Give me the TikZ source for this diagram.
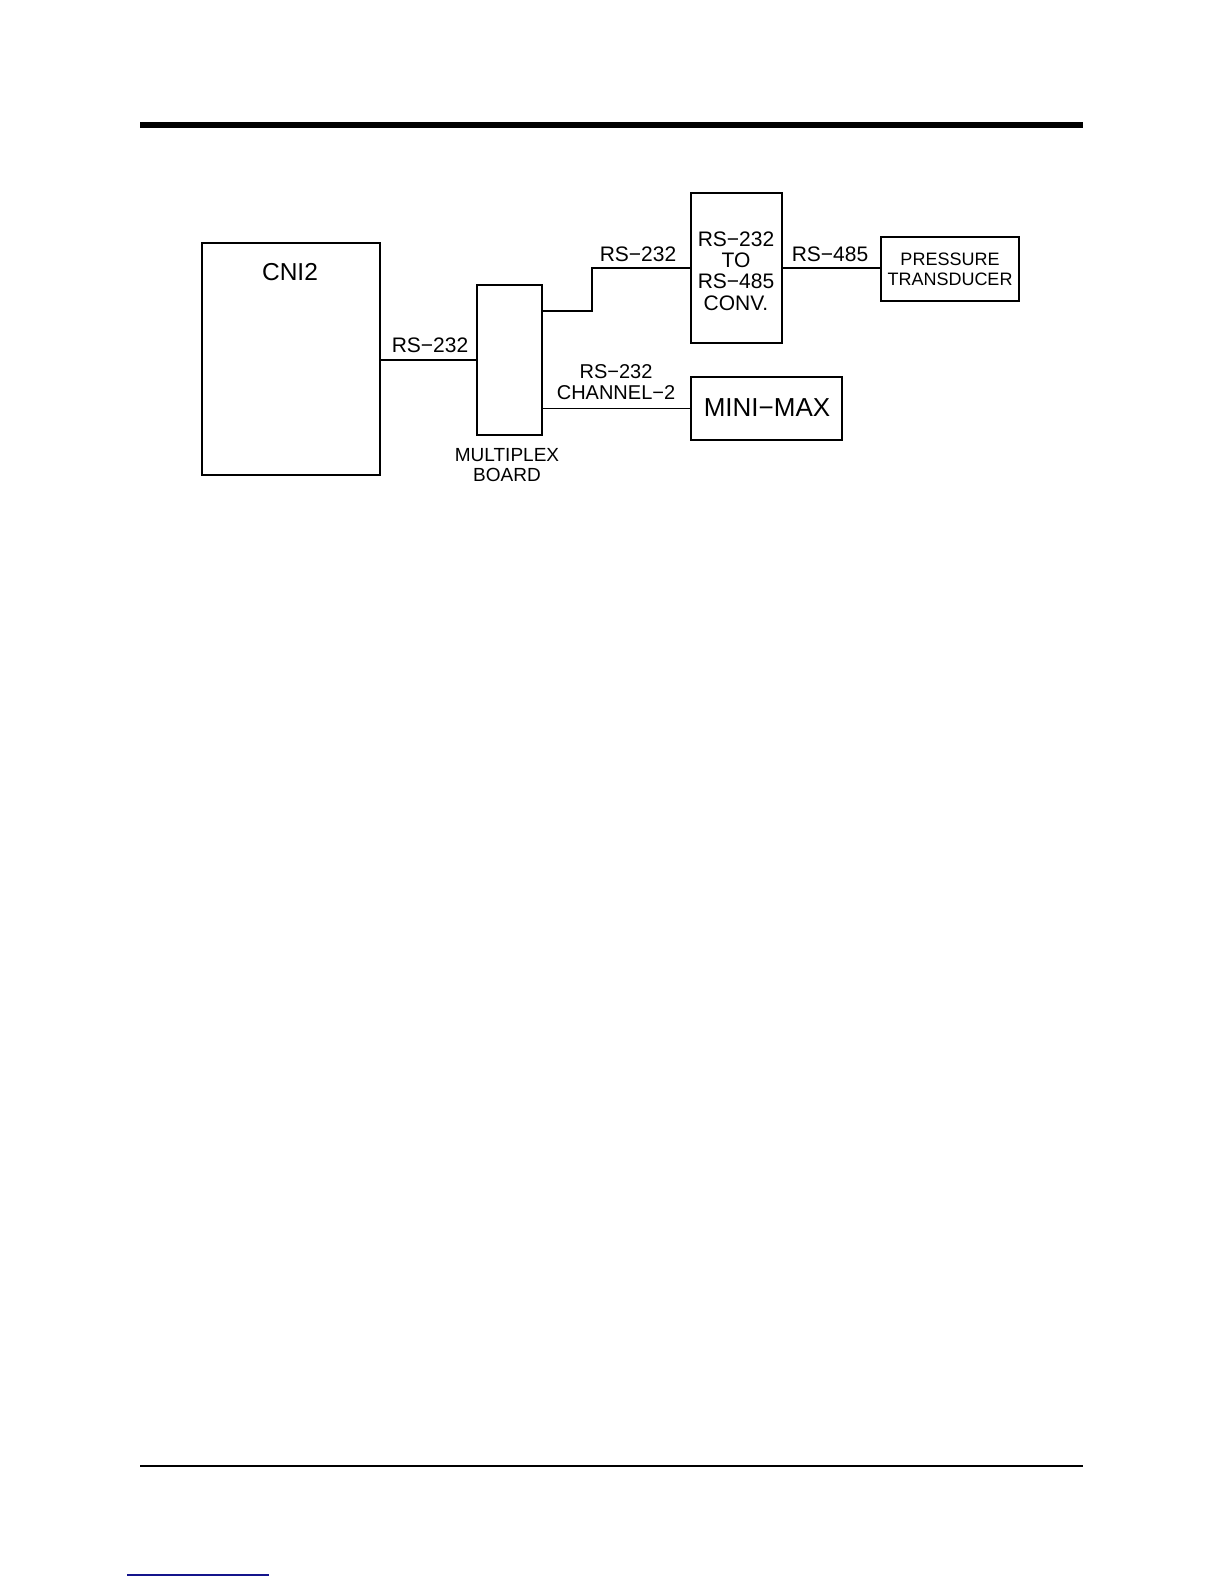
\documentclass[tikz,border=0pt]{standalone}
\usepackage{fontspec}
\setmainfont{Liberation Sans}
\definecolor{linkblue}{RGB}{20,20,140}
\begin{document}
\begin{tikzpicture}[x=1pt,y=-1pt,
  box/.style={draw,line width=1.5pt,inner sep=0pt,anchor=center},
  lbl/.style={inner sep=0pt,align=center,anchor=center},
  wire/.style={line width=1.5pt}]
\useasboundingbox (0,0) rectangle (1224,1584);
\fill[white] (0,0) rectangle (1224,1584);
% rules
\coordinate (tl) at (140,125);
\coordinate (tr) at (1083,125);
\draw[line width=6pt] (tl) -- (tr);
\coordinate (bl) at (140,1466);
\coordinate (br) at (1083,1466);
\draw[line width=1.3pt] (bl) -- (br);
\coordinate (ll) at (127,1575);
\coordinate (lr) at (269,1575);
\draw[linkblue,line width=1.5pt] (ll) -- (lr);
% boxes
\node[box,minimum width=178pt,minimum height=232pt] (cni) at (291,359) {};
\node[box,minimum width=65pt,minimum height=150pt] (mux) at (509.5,360) {};
\node[box,minimum width=91pt,minimum height=150pt] (conv) at (736.5,268) {};
\node[box,minimum width=138pt,minimum height=64pt] (pres) at (950,269) {};
\node[box,minimum width=151pt,minimum height=63pt] (mini) at (766.5,408.5) {};
% box texts
\node[lbl,font=\fontsize{24.5}{26}\selectfont] (cnit) at (290,272) {CNI2};
\node[lbl,font=\fontsize{21}{21.3}\selectfont] (convt) at (736,271) {RS−232\\TO\\RS−485\\CONV.};
\node[lbl,font=\fontsize{18}{20}\selectfont] (prest) at (950,269) {PRESSURE\\TRANSDUCER};
\node[lbl,font=\fontsize{26}{28}\selectfont] (minit) at (767,408) {MINI−MAX};
\node[lbl,font=\fontsize{19}{20}\selectfont] (muxt) at (507,465) {MULTIPLEX\\BOARD};
% connectors
\coordinate (bend) at (592,311);
\draw[wire] (cni.east |- mux.west) -- (mux.west);
\draw[wire] (mux.east |- bend) -- (bend) |- (conv.west);
\draw[wire] (conv.east) -- (conv.east -| pres.west);
\draw[wire] (mux.east |- mini.west) -- (mini.west);
% connector labels
\node[lbl,font=\fontsize{21}{21}\selectfont] (l1) at (430,345) {RS−232};
\node[lbl,font=\fontsize{21}{21}\selectfont] (l2) at (638,254) {RS−232};
\node[lbl,font=\fontsize{21}{21}\selectfont] (l3) at (830,254) {RS−485};
\node[lbl,font=\fontsize{20}{21}\selectfont] (l4) at (616,382.5) {RS−232\\CHANNEL−2};
\end{tikzpicture}
\end{document}
